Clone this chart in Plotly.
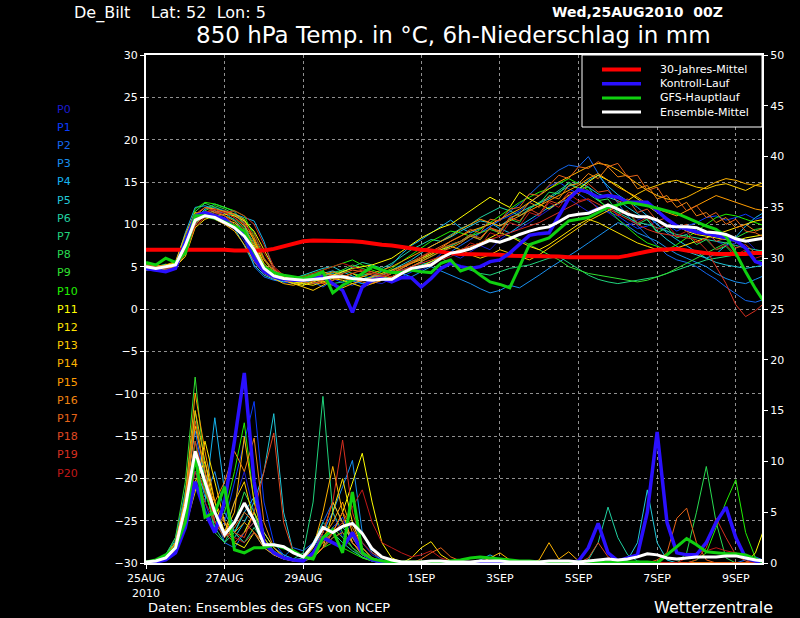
import plotly.graph_objects as go

# 6-hourly forecast steps from 25AUG2010 00Z (hours)
hours = [0, 6, 12, 18, 24, 30, 36, 42, 48, 54, 60, 66, 72, 78, 84, 90,
         96, 102, 108, 114, 120, 126, 132, 138, 144, 150, 156, 162, 168, 174, 180, 186,
         192, 198, 204, 210, 216, 222, 228, 234, 240, 246, 252, 258, 264, 270, 276, 282,
         288, 294, 300, 306, 312, 318, 324, 330, 336, 342, 348, 354, 360, 366, 372, 378]

tick_hours = [0, 48, 96, 168, 216, 264, 312, 360]
tick_labels = ["25AUG<br>2010", "27AUG", "29AUG", "1SEP", "3SEP", "5SEP", "7SEP", "9SEP"]

member_names = ["P0", "P1", "P2", "P3", "P4", "P5", "P6", "P7", "P8", "P9", "P10",
                "P11", "P12", "P13", "P14", "P15", "P16", "P17", "P18", "P19", "P20"]
member_colors = ["#1c1cd0", "#0a3cff", "#1468f0", "#1890f0", "#14b4f0", "#20c8d8",
                 "#20d0a0", "#20d47c", "#28dc50", "#30e030", "#20f000", "#ffff00",
                 "#ffe400", "#ffcc00", "#ffb400", "#ff9c00", "#f08410", "#e86418",
                 "#e04820", "#d83020", "#c01818"]

# 850 hPa temperature (deg C)
p0_temp = [4.8, 4.6, 4.9, 5.0, 8.0, 11.0, 11.5, 11.2, 10.8, 10.0, 8.0, 5.5, 4.2, 3.8, 3.5, 3.2,
           3.4, 3.9, 3.6, 3.0, 2.5, 3.8, 4.0, 3.2, 3.0, 3.6, 4.5, 5.0, 4.6, 5.2, 6.1, 6.5,
           6.0, 6.8, 7.5, 7.0, 8.2, 9.0, 9.5, 10.2, 11.0, 11.8, 12.5, 13.0, 12.2, 11.5, 12.0, 11.4,
           10.6, 9.8, 10.5, 11.0, 10.0, 9.2, 8.5, 8.8, 9.5, 9.0, 8.0, 7.5, 7.8, 8.2, 7.0, 6.5]
p1_temp = [4.6, 4.5, 5.0, 5.3, 7.0, 10.5, 11.8, 12.0, 11.6, 11.0, 10.2, 7.0, 4.8, 3.6, 3.2, 3.0,
           3.3, 3.5, 4.0, 3.6, 3.1, 2.8, 3.5, 3.9, 3.7, 3.2, 3.8, 4.4, 5.0, 5.5, 6.5, 7.5,
           8.0, 8.6, 9.0, 9.8, 10.5, 11.0, 11.6, 12.5, 13.4, 14.5, 15.0, 14.2, 13.6, 12.8, 12.0, 11.5,
           11.0, 10.2, 9.5, 9.8, 10.4, 10.0, 9.2, 9.8, 10.2, 10.8, 11.0, 10.5, 10.8, 11.2, 10.6, 11.0]
p2_temp = [5.0, 4.8, 4.7, 5.1, 7.5, 10.8, 11.3, 11.0, 10.6, 9.8, 8.5, 5.0, 3.8, 3.4, 3.2, 3.5,
           3.8, 3.2, 2.6, 3.4, 4.0, 3.5, 3.0, 3.2, 3.8, 4.2, 4.6, 5.0, 5.5, 5.2, 6.0, 6.8,
           7.5, 8.2, 9.0, 9.8, 10.5, 11.5, 12.4, 13.5, 14.6, 15.5, 16.4, 17.0, 16.8, 18.0, 16.0, 14.2,
           12.5, 11.0, 9.8, 8.6, 7.5, 6.4, 5.8, 5.5, 5.0, 4.2, 3.5, 2.6, 1.8, 1.0, 0.8, 1.2]
p3_temp = [4.7, 4.9, 5.2, 5.0, 6.5, 10.0, 11.2, 11.6, 11.3, 10.5, 9.0, 6.0, 4.5, 4.0, 3.6, 3.3,
           3.0, 3.5, 3.9, 4.2, 3.7, 3.3, 3.0, 3.4, 4.0, 4.5, 4.2, 3.8, 4.4, 5.0, 4.5, 4.0,
           3.5, 3.0, 2.4, 1.9, 2.2, 2.8, 2.5, 3.2, 4.0, 4.8, 5.5, 6.2, 7.0, 7.8, 8.6, 9.5,
           10.2, 9.8, 9.0, 8.5, 8.0, 7.2, 6.5, 6.0, 5.5, 5.0, 4.2, 3.6, 3.2, 3.0, 3.5, 4.0]
p4_temp = [5.2, 5.0, 4.8, 5.4, 9.0, 12.0, 12.2, 11.8, 11.5, 11.2, 10.8, 10.4, 8.0, 4.5, 3.8, 3.5,
           3.6, 3.8, 4.2, 4.5, 4.0, 3.6, 3.4, 3.8, 4.5, 5.2, 6.5, 7.5, 8.2, 9.0, 9.8, 10.5,
           9.6, 9.0, 9.5, 10.2, 9.5, 9.0, 9.8, 10.5, 11.2, 12.0, 12.5, 13.0, 14.0, 15.2, 15.8, 14.5,
           13.5, 12.8, 12.0, 11.0, 10.0, 9.0, 8.2, 7.5, 6.8, 6.0, 6.5, 7.5, 8.5, 9.8, 10.8, 11.5]
p5_temp = [4.9, 4.7, 5.1, 5.2, 7.8, 11.2, 11.5, 11.0, 10.4, 9.5, 7.5, 5.2, 4.0, 3.5, 3.2, 3.6,
           4.0, 4.4, 4.8, 5.0, 4.4, 3.9, 3.5, 3.7, 4.0, 4.6, 5.2, 5.8, 6.6, 7.4, 8.0, 8.5,
           9.2, 9.8, 10.4, 10.2, 9.8, 10.6, 11.4, 12.0, 12.5, 13.0, 13.8, 14.5, 15.0, 14.4, 13.6, 13.2,
           12.8, 12.0, 11.2, 10.5, 9.2, 8.2, 7.4, 6.8, 6.4, 6.0, 5.5, 5.2, 5.0, 4.8, 5.0, 5.2]
p6_temp = [5.1, 5.0, 4.6, 4.9, 7.0, 10.6, 11.8, 12.4, 12.0, 11.5, 10.0, 6.5, 4.4, 3.9, 3.7, 3.5,
           3.2, 3.0, 3.4, 3.8, 4.4, 5.0, 5.5, 5.2, 4.8, 5.4, 6.2, 7.0, 7.6, 8.2, 8.0, 8.8,
           9.5, 10.0, 10.8, 11.4, 12.0, 11.6, 11.0, 11.8, 12.6, 13.2, 14.0, 14.8, 14.2, 13.6, 12.8, 12.0,
           11.4, 10.8, 10.2, 10.0, 9.6, 9.2, 8.8, 8.6, 8.4, 8.2, 8.0, 7.8, 7.5, 7.2, 7.0, 6.8]
p7_temp = [4.8, 5.0, 5.3, 5.1, 6.8, 10.2, 11.0, 11.4, 11.0, 10.6, 9.6, 7.8, 5.0, 4.2, 3.6, 3.4,
           3.8, 4.1, 3.6, 3.0, 3.2, 3.6, 4.0, 4.2, 3.8, 3.6, 4.2, 4.8, 5.2, 5.6, 6.0, 5.4,
           5.0, 4.6, 4.2, 4.0, 4.4, 4.8, 5.0, 5.2, 5.6, 6.0, 6.2, 5.5, 4.8, 4.0, 3.5, 3.2,
           3.0, 3.2, 3.4, 3.6, 3.8, 4.2, 4.6, 5.0, 5.4, 5.8, 6.0, 6.2, 6.4, 6.6, 6.8, 7.0]
p8_temp = [5.0, 4.8, 5.0, 5.5, 8.5, 11.5, 12.5, 12.0, 11.5, 11.0, 10.5, 9.0, 6.0, 4.3, 3.8, 3.5,
           3.4, 3.6, 3.9, 4.3, 4.6, 4.2, 3.9, 3.6, 3.4, 3.8, 4.4, 5.0, 5.6, 6.2, 6.8, 7.4,
           8.0, 8.8, 8.2, 9.6, 9.0, 10.6, 10.2, 12.0, 12.4, 13.8, 13.6, 15.0, 14.2, 14.4, 12.8, 13.0,
           11.4, 11.6, 10.0, 10.6, 9.0, 9.6, 8.4, 8.8, 7.6, 8.2, 7.0, 7.4, 6.2, 6.8, 5.6, 5.8]
p9_temp = [4.7, 4.6, 4.8, 5.2, 7.2, 10.8, 11.6, 12.2, 11.8, 11.2, 10.0, 7.0, 4.6, 3.8, 3.4, 3.1,
           3.0, 3.3, 3.7, 4.0, 4.6, 5.2, 4.8, 4.4, 4.0, 4.4, 5.0, 5.6, 6.0, 6.4, 7.0, 7.6,
           8.0, 8.6, 9.0, 9.4, 9.0, 8.6, 8.2, 7.6, 7.0, 6.4, 5.8, 5.0, 4.6, 4.2, 4.0, 3.8,
           3.6, 3.4, 3.2, 3.4, 3.8, 4.2, 4.8, 5.4, 6.0, 6.6, 7.2, 7.8, 8.4, 9.0, 9.4, 9.6]
p10_temp = [5.3, 5.1, 4.9, 5.0, 8.0, 11.8, 12.6, 12.4, 12.0, 11.6, 11.0, 8.5, 5.0, 4.0, 3.8, 3.6,
            3.9, 4.2, 4.6, 5.0, 5.4, 5.8, 5.2, 4.6, 4.2, 4.8, 5.6, 6.4, 7.2, 8.0, 8.6, 9.2,
            9.0, 8.6, 9.4, 10.2, 11.0, 11.8, 12.6, 13.2, 13.8, 14.2, 14.8, 15.4, 14.8, 14.0, 13.0, 11.8,
            10.6, 9.6, 8.6, 7.8, 7.4, 7.0, 7.6, 8.4, 9.2, 10.0, 10.8, 11.2, 11.0, 10.6, 10.2, 9.8]
p11_temp = [4.6, 4.8, 5.2, 5.4, 7.4, 10.5, 11.0, 10.8, 10.5, 10.2, 9.0, 7.4, 5.2, 4.0, 3.4, 3.0,
            2.8, 3.2, 3.6, 4.0, 4.4, 4.8, 5.0, 5.2, 5.6, 6.0, 6.8, 7.6, 8.4, 9.0, 9.6, 10.0,
            10.8, 11.6, 12.4, 13.2, 12.6, 12.0, 13.8, 13.0, 12.4, 11.8, 12.6, 13.4, 14.2, 15.0, 15.8, 15.2,
            14.6, 13.8, 13.0, 12.2, 11.4, 10.6, 9.8, 9.2, 8.8, 8.6, 8.4, 8.2, 8.0, 8.4, 8.6, 8.8]
p12_temp = [5.0, 4.7, 4.6, 5.0, 6.2, 9.6, 10.6, 11.0, 11.2, 11.0, 10.4, 9.2, 7.0, 4.8, 3.6, 3.2,
            3.0, 2.8, 3.2, 3.6, 3.4, 3.0, 2.6, 3.0, 3.4, 3.8, 4.2, 4.6, 5.0, 5.6, 6.2, 6.6,
            7.0, 7.4, 7.8, 8.4, 9.0, 8.6, 8.0, 7.4, 7.0, 7.6, 8.4, 9.2, 10.0, 10.6, 10.2, 9.6,
            9.0, 8.4, 7.8, 7.4, 7.0, 6.8, 7.2, 7.6, 8.0, 8.4, 8.8, 9.2, 9.6, 10.0, 10.4, 10.6]
p13_temp = [4.9, 5.1, 5.0, 4.8, 6.6, 10.2, 11.4, 11.8, 11.5, 11.2, 10.6, 8.0, 5.4, 4.2, 3.4, 3.0,
            2.6, 2.2, 2.8, 3.4, 3.8, 4.2, 3.6, 3.2, 3.6, 4.2, 4.8, 5.4, 6.0, 6.6, 7.0, 7.4,
            7.0, 6.4, 6.0, 6.4, 7.0, 6.6, 6.2, 5.8, 6.4, 7.2, 8.0, 8.8, 9.6, 10.4, 11.0, 11.6,
            12.2, 12.8, 13.6, 14.2, 14.6, 15.0, 15.2, 14.8, 14.4, 14.2, 14.6, 14.8, 14.4, 14.0, 14.6, 15.0]
p14_temp = [5.1, 4.9, 5.2, 5.6, 8.8, 11.4, 11.2, 10.6, 10.0, 9.2, 7.6, 5.6, 4.2, 3.6, 3.0, 2.8,
            3.2, 3.6, 3.2, 2.8, 2.5, 3.0, 3.4, 3.8, 4.2, 4.6, 5.0, 5.4, 5.8, 6.4, 7.2, 8.0,
            8.6, 9.2, 9.6, 10.0, 10.6, 11.2, 11.8, 12.6, 13.4, 14.2, 15.0, 15.6, 16.2, 16.8, 17.2, 17.0,
            16.4, 15.6, 14.8, 14.0, 13.4, 13.0, 12.8, 13.2, 13.8, 14.4, 15.0, 15.4, 15.2, 14.8, 14.6, 14.4]
p15_temp = [4.8, 4.6, 4.9, 5.3, 7.6, 11.0, 12.0, 11.8, 11.4, 10.8, 9.8, 8.2, 5.8, 4.4, 3.8, 3.4,
            3.6, 4.0, 4.4, 4.0, 3.6, 3.4, 3.8, 4.2, 4.6, 5.0, 5.6, 6.2, 6.8, 7.4, 8.0, 8.6,
            9.4, 10.0, 10.6, 10.2, 9.8, 10.4, 11.0, 11.6, 12.2, 12.8, 13.4, 14.0, 14.6, 15.4, 16.0, 15.2,
            14.4, 13.8, 13.2, 12.4, 11.8, 11.4, 11.0, 11.6, 12.2, 12.8, 13.4, 13.0, 12.6, 12.2, 11.8, 11.6]
p16_temp = [5.0, 5.2, 5.0, 5.2, 7.4, 10.4, 11.2, 11.6, 11.0, 10.4, 9.4, 7.6, 5.0, 3.8, 3.4, 3.2,
            3.4, 3.8, 4.0, 4.4, 4.0, 3.6, 3.2, 3.0, 3.4, 3.8, 4.4, 5.0, 5.6, 6.2, 6.8, 7.2,
            7.8, 8.6, 8.2, 9.6, 9.2, 10.8, 11.2, 12.6, 12.0, 13.4, 13.0, 14.6, 14.8, 16.0, 15.4, 16.8,
            15.6, 15.8, 14.2, 14.6, 13.0, 13.4, 12.0, 12.6, 11.0, 11.4, 10.2, 10.8, 9.6, 10.0, 9.2, 9.6]
p17_temp = [4.7, 4.9, 5.1, 5.0, 6.8, 10.0, 11.0, 11.4, 11.6, 11.2, 10.2, 8.4, 6.0, 4.6, 4.0, 3.6,
            3.2, 3.0, 3.4, 3.8, 4.2, 4.6, 4.4, 4.0, 3.8, 4.2, 4.8, 5.4, 6.0, 6.8, 7.4, 8.0,
            8.6, 9.4, 9.0, 10.6, 10.4, 11.8, 12.0, 13.6, 13.4, 14.6, 15.8, 15.4, 16.8, 16.6, 17.4, 16.8,
            17.2, 15.6, 15.8, 14.0, 14.4, 12.6, 13.0, 11.6, 12.2, 10.8, 11.4, 10.0, 10.6, 9.2, 9.0, 8.4]
p18_temp = [5.2, 5.0, 4.7, 4.9, 7.2, 11.2, 12.0, 11.6, 11.0, 10.0, 8.8, 6.4, 4.6, 4.0, 3.6, 3.4,
            3.6, 3.2, 3.0, 3.4, 3.8, 4.2, 4.6, 4.4, 4.0, 4.4, 5.0, 5.6, 6.2, 6.8, 7.2, 7.6,
            8.0, 8.8, 8.4, 9.6, 9.0, 10.8, 10.4, 11.8, 11.2, 12.8, 12.4, 13.8, 13.6, 14.8, 13.8, 14.0,
            12.6, 13.0, 11.4, 11.8, 10.4, 10.8, 9.6, 10.0, 8.8, 9.2, 8.0, 8.4, 7.2, 7.6, 6.6, 6.8]
p19_temp = [4.9, 4.8, 5.0, 5.1, 6.4, 9.8, 10.8, 11.2, 11.4, 11.6, 11.0, 10.0, 7.6, 5.0, 4.0, 3.6,
            3.4, 3.6, 3.8, 4.0, 3.8, 3.6, 3.4, 3.6, 3.8, 4.2, 4.6, 5.0, 5.4, 5.8, 6.2, 6.6,
            7.0, 7.4, 7.8, 8.2, 8.6, 9.0, 9.4, 9.8, 10.2, 10.8, 11.4, 12.0, 12.6, 13.0, 12.4, 11.8,
            11.2, 10.6, 10.0, 9.4, 9.0, 8.8, 8.6, 8.4, 8.2, 7.0, 5.0, 3.0, 0.5, -0.9, -0.2, 0.8]
p20_temp = [5.0, 4.7, 4.8, 5.2, 7.0, 10.6, 11.4, 11.8, 11.4, 10.8, 10.0, 8.8, 6.6, 4.8, 4.0, 3.6,
            3.8, 4.2, 4.6, 5.0, 5.4, 5.0, 4.6, 4.2, 4.0, 3.8, 4.2, 4.6, 5.0, 5.4, 5.8, 6.2,
            6.8, 7.8, 7.4, 9.0, 8.6, 10.2, 9.8, 11.4, 11.0, 12.6, 12.0, 13.6, 12.8, 13.0, 11.8, 12.4,
            11.0, 11.6, 10.2, 10.8, 9.4, 10.0, 8.6, 9.2, 7.8, 8.4, 7.0, 7.6, 6.4, 7.0, 6.0, 6.4]

control_temp = [4.8, 4.6, 4.4, 4.8, 8.0, 11.0, 11.4, 11.0, 10.6, 9.6, 8.8, 6.0, 4.4, 3.8, 3.5, 3.4,
                3.4, 3.6, 3.8, 3.0, 2.2, -0.4, 2.6, 3.4, 3.6, 3.2, 3.7, 3.7, 2.6, 3.6, 4.8, 5.4,
                5.0, 4.8, 5.0, 5.6, 5.8, 6.6, 7.6, 8.7, 8.9, 9.0, 11.0, 13.0, 14.1, 13.8, 13.2, 13.4,
                13.2, 12.6, 12.6, 12.6, 11.6, 10.6, 9.8, 9.4, 9.1, 8.9, 8.7, 8.4, 8.1, 7.2, 5.6, 5.2]
oper_temp = [5.5, 5.2, 6.0, 5.5, 6.6, 11.0, 11.0, 10.7, 10.3, 9.8, 9.2, 6.8, 5.0, 4.3, 4.0, 3.8,
             3.6, 3.9, 4.4, 1.9, 2.8, 3.4, 4.2, 5.0, 4.6, 4.3, 4.3, 4.6, 4.4, 4.3, 5.4, 5.8,
             4.5, 4.9, 4.0, 3.2, 2.9, 2.5, 5.0, 7.6, 8.0, 8.4, 9.4, 10.4, 10.6, 10.8, 11.4, 12.0,
             12.3, 12.6, 12.4, 12.2, 11.9, 11.6, 11.3, 10.8, 10.3, 9.8, 9.4, 8.6, 6.6, 4.4, 2.4, 0.6]
mean_temp = [5.0, 4.8, 5.0, 5.2, 7.5, 10.5, 11.0, 10.8, 10.2, 9.6, 8.6, 7.0, 4.8, 3.9, 3.6, 3.5,
             3.4, 3.5, 3.6, 3.8, 3.8, 3.6, 3.5, 3.4, 3.5, 3.5, 4.2, 4.8, 5.0, 5.2, 6.0, 6.6,
             6.8, 7.1, 7.6, 8.1, 7.9, 8.3, 8.8, 9.2, 9.5, 9.7, 10.3, 11.0, 11.2, 11.3, 11.8, 12.3,
             11.8, 11.2, 10.9, 10.9, 10.5, 9.8, 9.7, 9.7, 9.6, 9.1, 9.0, 8.8, 8.3, 8.0, 8.2, 8.4]
clim_temp = [7.0, 7.0, 7.0, 7.0, 7.1, 7.1, 7.1, 7.0, 7.0, 6.9, 6.9, 6.8, 6.9, 7.1, 7.4, 7.8,
             8.0, 8.1, 8.1, 8.1, 8.1, 8.0, 7.9, 7.7, 7.6, 7.5, 7.3, 7.1, 7.0, 6.9, 6.7, 6.6,
             6.5, 6.5, 6.4, 6.4, 6.4, 6.3, 6.3, 6.3, 6.3, 6.2, 6.2, 6.1, 6.1, 6.0, 6.0, 6.0,
             6.1, 6.3, 6.6, 6.8, 7.0, 7.1, 7.1, 6.9, 6.7, 6.6, 6.5, 6.5, 6.4, 6.5, 6.6, 6.6]

# 6h precipitation (mm)
p0_rain = [0, 0.2, 0.5, 1.5, 6.0, 12.0, 9.0, 4.0, 3.0, 6.0, 9.0, 5.0, 2.0, 1.0, 0.5, 0.3,
           0.2, 1.0, 3.0, 5.0, 2.5, 4.0, 2.0, 0.8, 0.3, 0.1, 0, 0, 0, 0, 0, 0,
           0, 0, 0, 0, 0, 0, 0, 0, 0, 0, 0, 0, 0, 0, 0.2, 0.5,
           0.3, 0, 0, 0, 0, 0, 0, 0, 0, 0, 0, 0, 0, 0, 0, 0]
p1_rain = [0, 0.1, 0.4, 2.0, 5.0, 9.0, 6.0, 3.0, 4.0, 8.0, 12.0, 15.9, 6.0, 2.0, 0.8, 0.4,
           0.3, 0.8, 2.0, 3.5, 4.5, 2.0, 0.8, 0.3, 0.1, 0, 0, 0, 0, 0, 0, 0,
           0, 0, 0, 0, 0, 0, 0, 0, 0, 0, 0, 0, 0, 0, 0, 0,
           0, 0, 0, 0, 0, 0, 0, 0, 0, 0, 0, 0, 0, 0, 0, 0]
p2_rain = [0.1, 0.3, 0.8, 2.5, 7.0, 13.0, 8.0, 5.0, 2.0, 1.5, 3.0, 4.0, 2.0, 1.0, 0.6, 1.5,
           1.2, 2.0, 4.0, 6.0, 4.0, 2.5, 1.0, 0.4, 0.2, 0, 0, 0, 0, 0, 0, 0,
           0, 0, 0, 0, 0, 0, 0, 0, 0, 0, 0, 0, 0, 0, 0, 0,
           0, 0, 0, 0, 0, 0, 0, 0, 0, 0, 0, 0, 0, 0.3, 0.6, 0.2]
p3_rain = [0, 0.2, 0.6, 1.8, 5.5, 10.0, 6.5, 9.0, 5.0, 3.0, 2.0, 3.0, 1.5, 0.8, 0.4, 0.2,
           0.3, 1.5, 3.0, 5.0, 7.5, 10.1, 3.0, 1.0, 0.3, 0.1, 0, 0, 0, 0, 0, 0,
           0, 0, 0, 0, 0, 0, 0, 0, 0, 0, 0, 0, 0, 0, 0, 0,
           0, 0, 0, 0, 0, 0, 0, 0, 0, 0, 0, 0, 0, 0, 0, 0]
p4_rain = [0, 0.1, 0.3, 1.2, 4.0, 8.0, 6.0, 14.3, 7.0, 3.0, 5.0, 6.5, 3.0, 1.5, 0.8, 0.4,
           0.2, 0.6, 1.5, 3.0, 4.0, 2.0, 1.0, 0.3, 0.1, 0, 0, 0, 0, 0, 0, 0,
           0, 0, 0.3, 0.8, 0.3, 0, 0, 0, 0, 0, 0, 0, 0, 0, 0, 0,
           0, 0, 0, 0, 0, 0, 0, 0, 0, 0, 0, 0, 0, 0, 0, 0]
p5_rain = [0, 0.2, 0.5, 1.5, 5.0, 9.0, 7.0, 4.0, 3.0, 2.5, 4.0, 6.0, 9.0, 14.7, 5.0, 1.0,
           0.5, 1.0, 2.0, 3.0, 3.5, 2.5, 1.5, 0.5, 0.2, 0, 0, 0, 0, 0, 0, 0,
           0, 0, 0, 0, 0, 0, 0, 0, 0, 0, 0, 0, 0, 0, 0, 0,
           0, 0.3, 2.0, 7.2, 2.0, 0.3, 0, 0, 0, 0, 0, 0, 0, 0, 0, 0]
p6_rain = [0.1, 0.3, 0.8, 2.2, 6.0, 11.0, 7.5, 3.5, 2.0, 3.0, 5.0, 4.0, 2.0, 1.0, 0.5, 0.3,
           0.5, 2.0, 4.0, 3.0, 2.0, 1.2, 0.6, 0.2, 0, 0, 0, 0, 0, 0, 0, 0,
           0, 0, 0, 0, 0, 0, 0, 0, 0, 0, 0, 0, 0, 0.3, 2.0, 5.5,
           2.5, 0.8, 0.2, 0, 0, 0, 0, 0, 0, 0, 0, 0, 0, 0, 0, 0]
p7_rain = [0, 0.2, 0.6, 2.0, 5.0, 10.0, 8.0, 5.0, 4.0, 3.0, 2.0, 3.5, 2.0, 1.0, 0.5, 0.4,
           1.0, 6.0, 16.4, 5.0, 3.0, 2.0, 1.0, 0.4, 0.1, 0, 0, 0, 0, 0, 0, 0,
           0, 0, 0, 0, 0, 0, 0, 0, 0, 0, 0, 0, 0, 0, 0, 0,
           0, 0, 0, 0, 0, 0, 0, 0, 0, 0, 0, 0, 0, 0, 0, 0]
p8_rain = [0.1, 0.2, 0.5, 1.5, 7.0, 15.0, 8.0, 3.0, 2.0, 4.0, 7.0, 5.0, 2.5, 1.2, 0.6, 0.3,
           0.2, 0.5, 1.5, 2.5, 3.0, 1.5, 0.5, 0.2, 0, 0, 0, 0, 0, 0, 0, 0,
           0, 0, 0, 0, 0, 0, 0, 0, 0, 0, 0, 0, 0, 0, 0, 0,
           0, 0, 0, 0, 0, 0, 0, 1.0, 5.0, 9.5, 4.0, 0.5, 0, 0, 0, 0]
p9_rain = [0, 0.3, 0.8, 2.5, 8.0, 18.3, 9.0, 4.0, 3.0, 2.0, 3.0, 5.0, 2.0, 1.0, 0.5, 0.2,
           0.3, 0.8, 2.0, 3.5, 2.5, 1.5, 0.8, 0.3, 0, 0, 0, 0, 0, 0, 0, 0,
           0, 0, 0, 0, 0, 0, 0, 0, 0, 0, 0, 0, 0, 0, 0, 0,
           0, 0, 0, 0, 0, 0, 0, 0, 0, 0, 0, 0, 0, 0, 0, 0]
p10_rain = [0.1, 0.2, 0.6, 1.8, 5.5, 12.0, 7.0, 4.0, 5.0, 9.0, 13.8, 6.0, 2.5, 1.0, 0.5, 0.3,
            0.2, 0.6, 1.5, 2.0, 1.5, 1.0, 0.5, 0.2, 0, 0, 0, 0, 0, 0, 0, 0,
            0, 0, 0, 0, 0, 0, 0, 0, 0, 0, 0, 0, 0, 0, 0, 0,
            0, 0, 0, 0, 0, 0, 0, 0, 0.3, 1.0, 3.5, 6.0, 8.2, 3.0, 0.5, 0]
p11_rain = [0, 0.2, 0.4, 1.2, 4.0, 8.0, 10.0, 6.0, 3.0, 2.0, 1.5, 3.0, 2.0, 0.8, 0.4, 0.2,
            0.3, 1.0, 2.0, 3.0, 5.0, 8.0, 10.8, 6.0, 2.0, 0.5, 0.1, 0, 0, 0, 0, 0,
            0, 0, 0, 0, 0, 0, 0, 0, 0, 0, 0, 0, 0, 0, 0, 0,
            0, 0, 0, 0, 0, 0, 0, 0, 0, 0, 0, 0, 0, 0, 1.0, 3.7]
p12_rain = [0, 0.1, 0.3, 1.0, 3.5, 7.0, 12.0, 8.0, 4.0, 2.0, 3.0, 5.0, 3.0, 1.5, 0.6, 0.3,
            0.2, 0.5, 1.5, 5.0, 8.3, 4.0, 1.5, 0.5, 0.2, 0, 0, 0.5, 1.5, 2.1, 0.8, 0.2,
            0, 0, 0, 0, 0, 0, 0, 0, 0, 0, 0, 0, 0, 0, 0, 0,
            0, 0, 0, 0, 0, 0, 0, 0, 0, 0, 0, 0, 0, 0, 0, 0]
p13_rain = [0.1, 0.3, 0.7, 2.0, 6.0, 13.5, 9.0, 5.0, 3.0, 6.0, 8.0, 4.0, 2.0, 1.0, 0.5, 0.3,
            0.2, 1.0, 3.0, 6.0, 4.0, 2.0, 1.0, 0.3, 0, 0, 0, 0, 0, 0, 0, 0,
            0, 0, 0, 0, 0, 0, 0, 0, 0, 0, 0, 0, 0, 0, 0, 0,
            0, 0, 0, 0, 0, 0, 0, 0, 0, 0, 0, 0, 0, 0, 0, 0]
p14_rain = [0, 0.2, 0.5, 1.5, 5.0, 15.0, 10.0, 5.0, 3.0, 5.0, 12.4, 6.0, 2.5, 1.0, 0.5, 0.3,
            0.3, 1.5, 5.0, 9.5, 5.0, 2.0, 0.8, 0.3, 0, 0, 0, 0, 0, 0, 0, 0,
            0, 0, 0, 0.5, 1.0, 0.3, 0, 0, 0.3, 2.0, 0.4, 1.1, 0.2, 0, 0, 0,
            0, 0, 0, 0, 0, 0, 0, 0, 0, 0, 0, 0, 0, 0, 0, 0]
p15_rain = [0.1, 0.2, 0.6, 2.0, 6.5, 16.7, 11.0, 6.0, 4.0, 3.0, 4.0, 3.0, 1.5, 0.8, 0.4, 0.2,
            0.2, 0.8, 2.5, 4.0, 6.0, 3.0, 1.0, 0.3, 0.1, 0, 0, 0, 0, 0, 0, 0,
            0, 0, 0, 0, 0, 0, 0, 0, 0, 0, 0, 0, 0, 0, 0, 0,
            0, 0, 0, 0, 0, 0, 0, 0, 0, 0, 0, 0, 0, 0, 0, 0]
p16_rain = [0, 0.1, 0.4, 1.5, 5.0, 11.0, 8.0, 6.0, 8.0, 11.0, 9.0, 12.3, 4.0, 1.5, 0.6, 0.3,
            0.3, 1.0, 2.0, 3.0, 4.0, 2.5, 1.0, 0.4, 0.1, 0, 0, 0, 0, 0, 0, 0,
            0, 0, 0, 0, 0, 0, 0, 0, 0, 0, 0, 0, 0, 0, 0, 0,
            0, 0, 0, 0, 0, 0, 0, 0, 0, 0, 0, 0, 0, 0, 0, 0]
p17_rain = [0, 0.2, 0.5, 1.8, 6.0, 14.0, 9.0, 4.0, 2.5, 3.5, 5.0, 4.0, 2.0, 1.0, 0.5, 0.3,
            0.2, 0.6, 1.5, 3.0, 5.0, 3.5, 1.5, 0.5, 0.2, 0, 0, 0, 0.4, 1.0, 1.5, 0.6,
            0.2, 0, 0, 0, 0, 0, 0, 0, 0, 0, 0, 0, 0, 0, 0, 0,
            0, 0, 0, 0, 0.3, 1.0, 4.4, 5.4, 2.0, 0.3, 0, 0, 0, 0, 0, 0]
p18_rain = [0, 0.1, 0.4, 1.2, 4.5, 10.0, 7.0, 5.0, 4.0, 3.0, 2.5, 5.0, 9.0, 12.8, 4.0, 1.0,
            0.5, 0.8, 1.5, 2.5, 3.0, 2.0, 1.0, 0.4, 0.1, 0, 0, 0, 0, 0, 0, 0,
            0, 0, 0, 0, 0, 0, 0, 0, 0, 0, 0, 0, 0, 0.5, 2.0, 0.6,
            0, 0, 0, 0, 0, 0, 0, 0, 0, 0, 0, 0, 0, 0, 0, 0]
p19_rain = [0, 0.2, 0.5, 1.5, 5.0, 12.0, 8.0, 4.0, 3.0, 2.0, 3.0, 4.0, 2.0, 1.0, 0.5, 0.3,
            0.3, 1.0, 3.0, 6.0, 12.1, 5.0, 2.0, 1.0, 0.5, 0.2, 0, 0, 0, 0, 0, 0,
            0, 0, 0, 0, 0, 0, 0, 0, 0, 0, 0, 0, 0, 0, 0, 0,
            0, 0, 0, 0, 0, 0, 0, 0, 0.3, 1.5, 4.4, 2.5, 0.8, 0.2, 0, 0]
p20_rain = [0, 0.1, 0.3, 1.0, 4.0, 9.0, 6.0, 4.0, 3.0, 2.5, 2.0, 3.0, 2.0, 1.0, 0.5, 0.2,
            0.3, 0.8, 2.0, 3.0, 4.0, 5.5, 7.2, 4.0, 2.0, 1.5, 1.0, 0.6, 0.8, 1.2, 0.5, 0.2,
            0, 0, 0, 0, 0, 0, 0, 0, 0, 0, 0, 0, 0, 0, 0, 0,
            0, 0, 0, 0, 0, 0, 0, 0.5, 1.0, 1.2, 1.5, 1.2, 1.0, 0.6, 0.3, 0]

control_rain = [0, 0.1, 0.3, 1.0, 3.5, 8.0, 5.0, 3.0, 6.0, 12.0, 18.7, 8.0, 2.0, 1.0, 0.5, 0.3,
                0.2, 1.0, 2.5, 2.0, 1.5, 3.0, 1.0, 0.3, 0.1, 0, 0, 0, 0, 0, 0, 0,
                0, 0, 0, 0, 0, 0, 0, 0, 0, 0, 0, 0, 0.2, 1.5, 3.9, 1.0,
                0.2, 0.5, 0.8, 5.0, 12.9, 4.0, 1.0, 0.8, 0.8, 2.0, 4.0, 5.5, 2.5, 0.5, 0.2, 0]
oper_rain = [0.1, 0.3, 0.8, 1.5, 4.0, 10.5, 4.5, 5.0, 7.5, 1.3, 1.0, 1.5, 1.5, 1.8, 1.5, 1.2,
             0.6, 0.4, 2.5, 3.2, 1.0, 7.0, 1.0, 0.4, 0.2, 0.1, 0.1, 0.1, 0.1, 0.1, 0.1, 0.2,
             0.3, 0.5, 0.6, 0.5, 0.4, 0.3, 0.2, 0.2, 0.1, 0.1, 0.1, 0.1, 0.1, 0.1, 0.1, 0.1,
             0.1, 0.1, 0.1, 0.1, 0.0, 0.8, 1.6, 2.4, 1.8, 1.1, 1.0, 0.9, 0.9, 0.8, 0.4, 0.0]
mean_rain = [0.1, 0.2, 0.5, 1.5, 5.5, 11.0, 8.0, 5.0, 2.8, 4.0, 5.9, 4.2, 1.8, 1.8, 1.6, 1.0,
             0.6, 1.8, 3.5, 3.0, 3.6, 3.9, 2.9, 1.4, 0.6, 0.3, 0.1, 0.1, 0.1, 0.2, 0.2, 0.1,
             0.1, 0.1, 0.2, 0.2, 0.2, 0.1, 0.1, 0.1, 0.1, 0.2, 0.2, 0.2, 0.1, 0.2, 0.3, 0.4,
             0.3, 0.4, 0.6, 0.9, 0.8, 0.5, 0.4, 0.5, 0.6, 0.6, 0.6, 0.7, 0.7, 0.5, 0.3, 0.2]

members_temp = [p0_temp, p1_temp, p2_temp, p3_temp, p4_temp, p5_temp, p6_temp, p7_temp,
                p8_temp, p9_temp, p10_temp, p11_temp, p12_temp, p13_temp, p14_temp,
                p15_temp, p16_temp, p17_temp, p18_temp, p19_temp, p20_temp]
members_rain = [p0_rain, p1_rain, p2_rain, p3_rain, p4_rain, p5_rain, p6_rain, p7_rain,
                p8_rain, p9_rain, p10_rain, p11_rain, p12_rain, p13_rain, p14_rain,
                p15_rain, p16_rain, p17_rain, p18_rain, p19_rain, p20_rain]

FONT = "DejaVu Sans"
PLOT_L, PLOT_T, PLOT_W, PLOT_H = 146, 55, 616, 508


def pxy(px, py):
    # page pixels -> paper fraction of the plot area
    return (px - PLOT_L) / PLOT_W, (PLOT_T + PLOT_H - py) / PLOT_H


fig = go.Figure()

# ensemble members: temperature on left axis, precipitation on right axis
for name, col, t, r in zip(member_names, member_colors, members_temp, members_rain):
    fig.add_trace(go.Scatter(x=hours, y=t, mode="lines", line=dict(color=col, width=1),
                             name=name, hoverinfo="skip"))
    fig.add_trace(go.Scatter(x=hours, y=r, mode="lines", line=dict(color=col, width=1),
                             name=name, hoverinfo="skip", yaxis="y2"))

main = [("30-Jahres-Mittel", "#ff0000", 4, clim_temp, None),
        ("Kontroll-Lauf", "#2a10ff", 3.5, control_temp, control_rain),
        ("GFS-Hauptlauf", "#10d010", 3, oper_temp, oper_rain),
        ("Ensemble-Mittel", "#ffffff", 3, mean_temp, mean_rain)]
for name, col, w, t, r in main:
    fig.add_trace(go.Scatter(x=hours, y=t, mode="lines", line=dict(color=col, width=w),
                             name=name))
    if r is not None:
        fig.add_trace(go.Scatter(x=hours, y=r, mode="lines", line=dict(color=col, width=w),
                                 name=name, yaxis="y2"))

# member labels down the left side
for i, (name, col) in enumerate(zip(member_names, member_colors)):
    ax, ay = pxy(55, 109 + i * 18.2)
    fig.add_annotation(x=ax, y=ay, xref="paper", yref="paper", text=name,
                       showarrow=False, xanchor="left", yanchor="middle",
                       font=dict(family=FONT, size=11, color=col))

texts = [(72, 13, "De_Bilt    Lat: 52  Lon: 5", 16, "left"),
         (725, 12, "<b>Wed,25AUG2010  00Z</b>", 14, "right"),
         (453, 35, "850 hPa Temp. in °C, 6h-Niederschlag in mm", 23, "center"),
         (146, 607, "Daten: Ensembles des GFS von NCEP", 13, "left"),
         (775, 607, "Wetterzentrale", 16, "right")]
for px, py, txt, size, anchor in texts:
    ax, ay = pxy(px, py)
    fig.add_annotation(x=ax, y=ay, xref="paper", yref="paper", text=txt,
                       showarrow=False, xanchor=anchor, yanchor="middle",
                       font=dict(family=FONT, size=size, color="white"))

# legend box, top right inside the plot
bx0, by0 = pxy(582, 127)
bx1, by1 = pxy(762, 55)
fig.add_shape(type="rect", xref="paper", yref="paper", x0=bx0, y0=by0, x1=bx1, y1=by1,
              line=dict(color="white", width=1), fillcolor="black", layer="above")
for k, (name, col, w, t, r) in enumerate(main):
    row = 69.5 + k * 14.2
    lx0, ly = pxy(602, row)
    lx1, _ = pxy(641, row)
    fig.add_shape(type="line", xref="paper", yref="paper", x0=lx0, y0=ly, x1=lx1, y1=ly,
                  line=dict(color=col, width=w), layer="above")
    tx, _ = pxy(658, row)
    fig.add_annotation(x=tx, y=ly, xref="paper", yref="paper", text=name, showarrow=False,
                       xanchor="left", yanchor="middle",
                       font=dict(family=FONT, size=11, color="white"))

fig.update_layout(
    width=800, height=618,
    margin=dict(l=PLOT_L, r=800 - PLOT_L - PLOT_W, t=PLOT_T, b=618 - PLOT_T - PLOT_H),
    paper_bgcolor="black", plot_bgcolor="black",
    font=dict(family=FONT, color="white", size=11),
    showlegend=False,
    xaxis=dict(range=[0, 376], tickvals=tick_hours, ticktext=tick_labels,
               showgrid=True, gridcolor="#909090", griddash="dot", gridwidth=1,
               showline=True, linecolor="white", linewidth=2, mirror=True,
               ticks="outside", ticklen=4, tickcolor="white",
               tickfont=dict(size=11, color="white"), zeroline=False),
    yaxis=dict(range=[-30, 30], dtick=5, tick0=-30,
               showgrid=True, gridcolor="#909090", griddash="dot", gridwidth=1,
               showline=True, linecolor="white", linewidth=2, mirror=True,
               ticks="outside", ticklen=4, tickcolor="white",
               tickfont=dict(size=11, color="white"), zeroline=False),
    yaxis2=dict(range=[0, 50], dtick=5, overlaying="y", side="right",
                showgrid=False, showline=False, zeroline=False,
                ticks="outside", ticklen=5, tickcolor="white",
                tickfont=dict(size=11, color="white")),
)

fig.write_html("out.html", config={"displayModeBar": False},
               post_script="document.body.style.margin='0';"
                           "document.body.style.background='black';")
